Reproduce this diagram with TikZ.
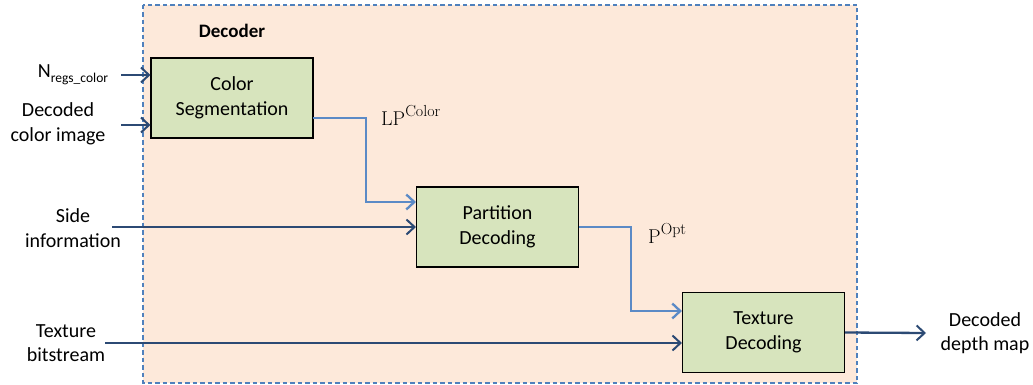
\documentclass[tikz,border=0pt]{standalone}
\usepackage{fontspec}
\setmainfont{Carlito}
\newfontfamily\lmr{Latin Modern Roman}
\usetikzlibrary{arrows.meta,calc}
\definecolor{panelfill}{HTML}{FDE9DA}
\definecolor{panelline}{HTML}{4F81BD}
\definecolor{boxfill}{HTML}{D7E4BD}
\definecolor{darkflow}{HTML}{2C4A74}
\definecolor{blueflow}{HTML}{5B8AC6}
\begin{document}
\begin{tikzpicture}[x=1pt,y=-1pt,
  txt/.style={font=\fontsize{20}{24.5}\selectfont, inner sep=0pt, align=center},
  block/.style={txt, draw=black, line width=1.1pt, fill=boxfill,
    minimum width=162pt, minimum height=80pt},
  darrow/.style={draw=darkflow, line width=2.3pt,
    -{Straight Barb[length=8pt,width=15pt,line width=2pt]}},
  barrow/.style={draw=blueflow, line width=2.8pt,
    -{Straight Barb[length=8pt,width=15pt,line width=2.3pt]}},
  sym/.style={inner sep=0pt, anchor=base west, font=\lmr\fontsize{20}{22}\selectfont}]
\useasboundingbox (0,0) rectangle (1033,385);

% decoder panel
\draw[panelline, fill=panelfill, line width=1.3pt, dash pattern=on 4.5pt off 3pt]
  (143,5) rectangle (857,383);
\node[txt, font=\bfseries\fontsize{19}{23}\selectfont] (title) at (232,31) {Decoder};

% processing blocks
\node[block] (cs) at (232,98) {Color\\Segmentation};
\node[block] (pd) at (497.5,227) {Partition\\Decoding};
\node[block] (td) at (763.5,332.5) {Texture\\Decoding};

% input labels
\node[txt] (nreg) at (73,75) {N\raisebox{-5pt}{\fontsize{13.5}{14}\selectfont regs\_color}};
\node[txt] (dci) at (58,124) {Decoded\\color image};
\node[txt] (side) at (73,228) {Side\\information};
\node[txt] (tex) at (66,343) {Texture\\bitstream};
\node[txt] (ddm) at (985,333) {Decoded\\depth map};

% symbols on the internal flows
\node[sym] (lp) at (381,125) {LP\raisebox{9pt}{\fontsize{16}{16}\selectfont Color}};
\node[sym] (popt) at (648,243) {P\raisebox{9pt}{\fontsize{16}{16}\selectfont Opt}};

% arrow start points
\coordinate (inN) at (121,75);
\coordinate (inD) at (121,125);
\coordinate (inS) at (112,227);
\coordinate (inT) at (105,343);
\coordinate (outE) at (926,333);
\coordinate (lpA) at (313,118);
\coordinate (lpB) at (366,202);
\coordinate (poB) at (631,311);

% dark input / output flows
\draw[darrow] (inN) -- (inN -| cs.west);
\draw[darrow] (inD) -- (inD -| cs.west);
\draw[darrow] (inS) -- (inS -| pd.west);
\draw[darrow] (inT) -- (inT -| td.west);
\draw[darrow] (td.east) -- (outE);

% blue internal flows
\draw[barrow] (lpA) -| (lpB) -- (lpB -| pd.west);
\draw[barrow] (pd.east) -| (poB) -- (poB -| td.west);
\end{tikzpicture}
\end{document}
